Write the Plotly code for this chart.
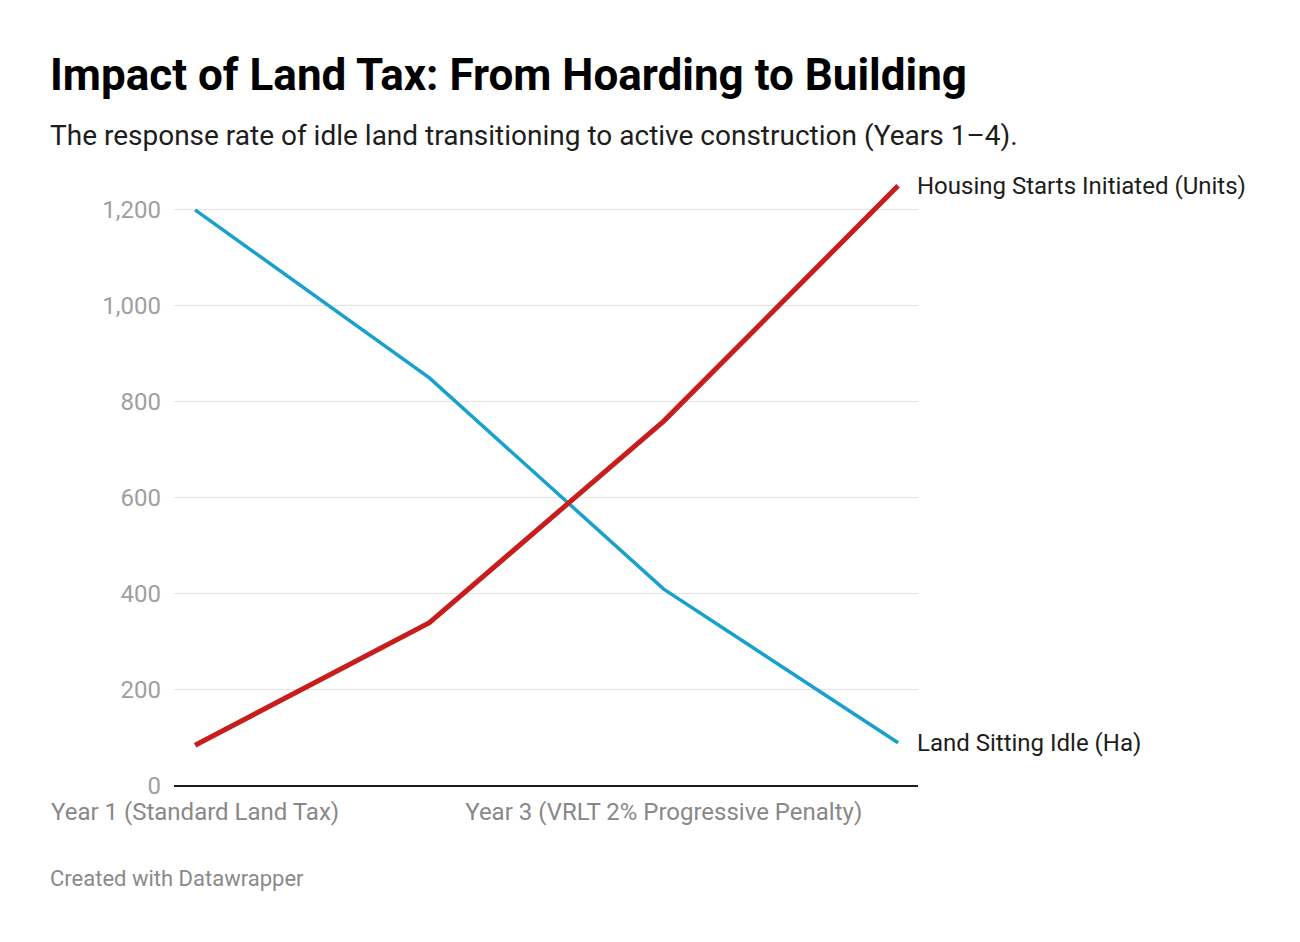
import plotly.graph_objects as go

# data
years = ["Year 1 (Standard Land Tax)", "Year 2", "Year 3 (VRLT 2% Progressive Penalty)", "Year 4"]
shown_years = ["Year 1 (Standard Land Tax)", "Year 3 (VRLT 2% Progressive Penalty)"]
land_idle = [1200, 850, 410, 90]
housing_starts = [85, 340, 760, 1250]
y_ticks = [0, 200, 400, 600, 800, 1000, 1200]

BLUE = "#18a1cd"
RED = "#c71e1d"
FONT = "Roboto"

# page has an 8px offset, so margins are shifted by that much
L, T, PW, PH = 166, 162, 744, 616

fig = go.Figure()
fig.add_trace(go.Scatter(x=years, y=land_idle, mode="lines", name="Land Sitting Idle (Ha)",
                         line=dict(color=BLUE, width=3.5)))
fig.add_trace(go.Scatter(x=years, y=housing_starts, mode="lines", name="Housing Starts Initiated (Units)",
                         line=dict(color=RED, width=5)))

# direct labels at line ends
for trace in fig.data:
    fig.add_annotation(x=years[-1], y=trace.y[-1], text=trace.name, showarrow=False,
                       xanchor="left", yanchor="middle", xshift=17,
                       font=dict(family=FONT, size=24, color="#1d1d1d"))

fig.update_layout(
    width=1300, height=942,
    margin=dict(l=L, r=1300 - L - PW, t=T, b=942 - T - PH),
    paper_bgcolor="white", plot_bgcolor="white",
    showlegend=False,
    font=dict(family=FONT),
    title=dict(text="<b>Impact of Land Tax: From Hoarding to Building</b>",
               x=42 / 1300, xanchor="left", y=1 - 67 / 942, yanchor="middle",
               font=dict(family=FONT, size=44, color="#000000")),
)
fig.add_annotation(xref="paper", yref="paper", x=(48 - 174) / PW, y=(786 - 136) / PH,
                   xanchor="left", yanchor="middle", showarrow=False,
                   text="The response rate of idle land transitioning to active construction (Years 1–4).",
                   font=dict(family=FONT, size=28, color="#1d1d1d"))
fig.add_annotation(xref="paper", yref="paper", x=(48 - 174) / PW, y=(786 - 878) / PH,
                   xanchor="left", yanchor="middle", showarrow=False,
                   text="Created with Datawrapper",
                   font=dict(family=FONT, size=22, color="#8a8a8a"))

fig.update_xaxes(type="category", range=[-0.09, 3.085], tickmode="array",
                 tickvals=shown_years, ticktext=shown_years,
                 showgrid=False, showline=False, zeroline=False, ticks="",
                 tickfont=dict(family=FONT, size=24, color="#888888"), ticklabelstandoff=9)
fig.update_yaxes(range=[0, 1283], tickvals=y_ticks, tickformat=",",
                 showgrid=True, gridcolor="#e3e3e3", gridwidth=1,
                 zeroline=True, zerolinecolor="#1d1d1d", zerolinewidth=2,
                 showline=False, ticks="", ticklabelstandoff=12,
                 tickfont=dict(family=FONT, size=24, color="#a0a0a0"))

fig.write_html("out.html")
